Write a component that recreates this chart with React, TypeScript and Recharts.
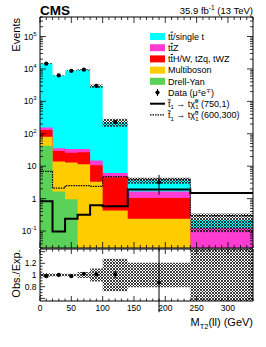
import React from 'react'
import {Area, ComposedChart, ErrorBar, Line, Scatter, XAxis, YAxis} from 'recharts'

// bin edges in GeV; last bin is 240-340
const binEdges = [0, 20, 40, 60, 80, 100, 140, 240, 340]
const binCenters = [10, 30, 50, 70, 90, 120, 190]

// background yields per bin (events)
const ttbarSingleT = [14650, 6260, 8850, 9270, 2945, 222, 2.0, 0.095]
const ttZ = [24, 6.5, 8, 7, 4.3, 1.6, 0.62, 0.125]
const ttOther = [50, 15.6, 13, 15.5, 7.4, 4.1, 0.81, 0]
const multiboson = [38, 12.2, 12, 11.5, 3.3, 0.43, 0.24, 0]
const drellYan = [43, 1.65, 0.95, 0, 0, 0, 0, 0]
const bkgRelUnc = [0.03, 0.02, 0.02, 0.05, 0.11, 0.28, 0.21, 0.58]

// signal points
const sig750 = [0.83, 0.097, 0.24, 0.32, 0.62, 0.58, 1.9, 1.5]
const sig600 = [6.9, 2.1, 2.5, 2.5, 2.4, 4.8, 4.0, 0.3]

// observed data
const dataObs = [14500, 6300, 8700, 9500, 2990, 230, 3.2]
const dataErrLow = [120, 80, 93, 97, 55, 15, 1.87]
const dataErrHigh = [120, 80, 93, 97, 55, 15, 2.2]

const colors = {
  ttbar: '#00ffff',
  ttZ: '#ff3cd2',
  ttOther: '#ff0000',
  multiboson: '#ffcc00',
  drellYan: '#5ad25a',
}

const FONT = '"Liberation Sans", Arial, Helvetica, sans-serif'
const yMin = 0.03
const yMax = 4e5
const rMin = 0.555
const rMax = 1.445

const nBins = binEdges.length - 1
const at = (arr: number[], i: number) => arr[Math.min(i, nBins - 1)]
const floorLog = (v: number) => Math.max(v, 1e-4)

const totals = ttbarSingleT.map((v, i) => v + ttZ[i] + ttOther[i] + multiboson[i] + drellYan[i])

const stackRows = binEdges.map((x, i) => {
  const dy = at(drellYan, i)
  const mb = dy + at(multiboson, i)
  const tto = mb + at(ttOther, i)
  const ttz = tto + at(ttZ, i)
  const total = at(totals, i)
  const unc = at(bkgRelUnc, i)
  return {
    x,
    dy: floorLog(dy),
    mb: floorLog(mb),
    tto: floorLog(tto),
    ttz: floorLog(ttz),
    total,
    band: [total * (1 - unc), total * (1 + unc)],
    ratioBand: [1 - unc, 1 + unc],
    s750: at(sig750, i),
    s600: at(sig600, i),
  }
})

const dataRows = binCenters.map((x, i) => ({x, y: dataObs[i], err: [dataErrLow[i], dataErrHigh[i]]}))
const ratioRows = binCenters.map((x, i) => ({
  x,
  y: dataObs[i] / totals[i],
  err: [dataErrLow[i] / totals[i], dataErrHigh[i] / totals[i]],
}))

const xTicks = Array.from({length: 35}, (_, i) => i * 10)
const isMajorX = (v: number) => v % 50 === 0

const logTicks: number[] = []
for (let e = -2; e <= 5; e++) {
  for (let m = 1; m <= 9; m++) {
    const v = Number((m * 10 ** e).toPrecision(3))
    if (v >= yMin && v <= yMax) logTicks.push(v)
  }
}
const isMajorLog = (v: number) => Math.abs(Math.log10(v) - Math.round(Math.log10(v))) < 1e-6

const ratioTicks = Array.from({length: 17}, (_, i) => Number((0.6 + i * 0.05).toFixed(2)))
const isMajorRatio = (v: number) => Math.abs(v * 5 - Math.round(v * 5)) < 1e-6

function logLabel(v: number) {
  const e = Math.round(Math.log10(v))
  if (e === 0) return '1'
  if (e === 1) return '10'
  return (
    <>
      <tspan>10</tspan>
      <tspan dy={-4} fontSize={6}>{e}</tspan>
    </>
  )
}

type Side = 'left' | 'right' | 'top' | 'bottom'

function frameTick(
  side: Side,
  isMajor: (v: number) => boolean,
  majorLen: number,
  minorLen: number,
  label?: (v: number) => React.ReactNode,
) {
  return (p: any) => {
    const v = p.payload.value as number
    const major = isMajor(v)
    const len = major ? majorLen : minorLen
    const {x, y} = p
    const end =
      side === 'left' ? [x + len, y] : side === 'right' ? [x - len, y] : side === 'top' ? [x, y + len] : [x, y - len]
    const text = label ? label(v) : null
    return (
      <g>
        <line x1={x} y1={y} x2={end[0]} y2={end[1]} stroke="#000" strokeWidth={0.8} />
        {text != null && side === 'left' && (
          <text x={x - 3.5} y={y + 3} textAnchor="end" fontSize={8.5} fontFamily={FONT} fill="#000">
            {text}
          </text>
        )}
        {text != null && side === 'bottom' && (
          <text x={x} y={y + 9.5} textAnchor="middle" fontSize={8.5} fontFamily={FONT} fill="#000">
            {text}
          </text>
        )}
      </g>
    )
  }
}

const axisCommon = {tickLine: false, tickSize: 0, tickMargin: 0, interval: 0 as const, axisLine: {stroke: '#000', strokeWidth: 1}}

function Hatch({id}: {id: string}) {
  return (
    <defs>
      <pattern id={id} width={3} height={3} patternUnits="userSpaceOnUse">
        <path d="M0,0 L3,3 M3,0 L0,3" stroke="#1a1a1a" strokeWidth={0.85} />
      </pattern>
    </defs>
  )
}

function MainPanel() {
  return (
    <ComposedChart width={266} height={249} data={stackRows} margin={{top: 0, right: 0, bottom: 0, left: 0}}>
      <Hatch id="hatch-main" />
      <XAxis
        dataKey="x"
        type="number"
        domain={[0, 340]}
        allowDataOverflow
        ticks={xTicks}
        height={1}
        tick={frameTick('bottom', isMajorX, 6, 3)}
        {...axisCommon}
      />
      <XAxis
        xAxisId="top"
        dataKey="x"
        type="number"
        orientation="top"
        domain={[0, 340]}
        allowDataOverflow
        ticks={xTicks}
        height={17}
        tick={frameTick('top', isMajorX, 6, 3)}
        {...axisCommon}
      />
      <YAxis
        scale="log"
        type="number"
        domain={[yMin, yMax]}
        allowDataOverflow
        ticks={logTicks}
        width={40}
        tick={frameTick('left', isMajorLog, 6, 3, (v) => (isMajorLog(v) ? logLabel(v) : null))}
        {...axisCommon}
      />
      <YAxis
        yAxisId="right"
        orientation="right"
        scale="log"
        type="number"
        domain={[yMin, yMax]}
        allowDataOverflow
        ticks={logTicks}
        width={13}
        tick={frameTick('right', isMajorLog, 6, 3)}
        {...axisCommon}
      />
      <Area type="stepAfter" dataKey="total" fill={colors.ttbar} fillOpacity={1} stroke="none" baseValue={yMin} isAnimationActive={false} />
      <Area type="stepAfter" dataKey="ttz" fill={colors.ttZ} fillOpacity={1} stroke="none" baseValue={yMin} isAnimationActive={false} />
      <Area type="stepAfter" dataKey="tto" fill={colors.ttOther} fillOpacity={1} stroke="none" baseValue={yMin} isAnimationActive={false} />
      <Area type="stepAfter" dataKey="mb" fill={colors.multiboson} fillOpacity={1} stroke="none" baseValue={yMin} isAnimationActive={false} />
      <Area type="stepAfter" dataKey="dy" fill={colors.drellYan} fillOpacity={1} stroke="none" baseValue={yMin} isAnimationActive={false} />
      <Area type="stepAfter" dataKey="band" fill="url(#hatch-main)" fillOpacity={1} stroke="none" isAnimationActive={false} />
      <Line type="stepAfter" dataKey="s600" stroke="#000" strokeWidth={1.2} strokeDasharray="1.5 1" dot={false} isAnimationActive={false} />
      <Line type="stepAfter" dataKey="s750" stroke="#000" strokeWidth={2} dot={false} isAnimationActive={false} />
      <Scatter
        data={dataRows}
        dataKey="y"
        fill="#000"
        isAnimationActive={false}
        shape={(p: any) => <circle cx={p.cx} cy={p.cy} r={2.1} fill="#000" />}
      >
        <ErrorBar dataKey="err" direction="y" width={0} stroke="#000" strokeWidth={1} />
      </Scatter>
    </ComposedChart>
  )
}

function RatioPanel() {
  return (
    <ComposedChart width={266} height={73} data={stackRows} margin={{top: 0, right: 0, bottom: 0, left: 0}}>
      <Hatch id="hatch-ratio" />
      <XAxis
        dataKey="x"
        type="number"
        domain={[0, 340]}
        allowDataOverflow
        ticks={xTicks}
        height={20}
        tick={frameTick('bottom', isMajorX, 5, 2.5, (v) => (isMajorX(v) && v <= 300 ? String(v) : null))}
        {...axisCommon}
      />
      <XAxis
        xAxisId="top"
        dataKey="x"
        type="number"
        orientation="top"
        domain={[0, 340]}
        allowDataOverflow
        ticks={xTicks}
        height={1}
        tick={frameTick('top', isMajorX, 5, 2.5)}
        {...axisCommon}
      />
      <YAxis
        type="number"
        domain={[rMin, rMax]}
        allowDataOverflow
        ticks={ratioTicks}
        width={40}
        tick={frameTick('left', isMajorRatio, 5, 2.5, (v) =>
          v === 0.8 ? '0.8' : v === 1 ? '1' : v === 1.2 ? '1.2' : null,
        )}
        {...axisCommon}
      />
      <YAxis
        yAxisId="right"
        orientation="right"
        type="number"
        domain={[rMin, rMax]}
        allowDataOverflow
        ticks={ratioTicks}
        width={13}
        tick={frameTick('right', isMajorRatio, 5, 2.5)}
        {...axisCommon}
      />
      <Area type="stepAfter" dataKey="ratioBand" fill="url(#hatch-ratio)" fillOpacity={1} stroke="none" isAnimationActive={false} />
      <Scatter
        data={ratioRows}
        dataKey="y"
        fill="#000"
        isAnimationActive={false}
        shape={(p: any) => <circle cx={p.cx} cy={p.cy} r={2.1} fill="#000" />}
      >
        <ErrorBar dataKey="err" direction="y" width={0} stroke="#000" strokeWidth={1} />
      </Scatter>
    </ComposedChart>
  )
}

const legendRows = [
  {kind: 'box', color: colors.ttbar, label: 'ttbar'},
  {kind: 'box', color: colors.ttZ, label: 'ttZ'},
  {kind: 'box', color: colors.ttOther, label: 'ttOther'},
  {kind: 'box', color: colors.multiboson, label: 'Multiboson'},
  {kind: 'box', color: colors.drellYan, label: 'Drell-Yan'},
  {kind: 'data', color: '#000', label: 'data'},
  {kind: 'solid', color: '#000', label: '(750,1)'},
  {kind: 'dotted', color: '#000', label: '(600,300)'},
]

function TT() {
  return (
    <>
      <tspan>t</tspan>
      <tspan textDecoration="overline" style={{textDecoration: 'overline'}}>t</tspan>
    </>
  )
}

function Stop({mass}: {mass: string}) {
  return (
    <>
      <tspan>t&#x0303;</tspan>
      <tspan dy={2.5} fontSize={6}>1</tspan>
      <tspan dy={-2.5}> → tχ&#x0303;</tspan>
      <tspan dy={-3.5} fontSize={6}>0</tspan>
      <tspan dx={-3.3} dy={6} fontSize={6}>1</tspan>
      <tspan dy={-2.5}>{' ' + mass}</tspan>
    </>
  )
}

function legendText(label: string) {
  switch (label) {
    case 'ttbar':
      return (<><TT /><tspan>/single t</tspan></>)
    case 'ttZ':
      return (<><TT /><tspan>Z</tspan></>)
    case 'ttOther':
      return (<><TT /><tspan>H/W, tZq, tWZ</tspan></>)
    case 'data':
      return (
        <>
          <tspan>Data (μ</tspan>
          <tspan dy={-3} fontSize={6}>±</tspan>
          <tspan dy={3}>e</tspan>
          <tspan dy={-3} fontSize={6}>∓</tspan>
          <tspan dy={3}>)</tspan>
        </>
      )
    case '(750,1)':
    case '(600,300)':
      return <Stop mass={label} />
    default:
      return label
  }
}

function Overlay() {
  return (
    <svg width={266} height={347} style={{position: 'absolute', left: 0, top: 0, pointerEvents: 'none'}} fontFamily={FONT}>
      <text x={40} y={14.5} fontSize={13.5} fontWeight="bold" fill="#000">CMS</text>
      <text x={253} y={13.5} fontSize={9.5} textAnchor="end" fill="#000">
        <tspan>35.9 fb</tspan>
        <tspan dy={-3.5} fontSize={6.5}>-1</tspan>
        <tspan dy={3.5}> (13 TeV)</tspan>
      </text>
      <text x={20} y={18} fontSize={11} textAnchor="end" transform="rotate(-90 20 18)" fill="#000">Events</text>
      <text x={20} y={273.5} fontSize={11} textAnchor="middle" transform="rotate(-90 20 273.5)" fill="#000">Obs./Exp.</text>
      <text x={253} y={326} fontSize={11} textAnchor="end" fill="#000">
        <tspan>M</tspan>
        <tspan dy={2.5} fontSize={7.5}>T2</tspan>
        <tspan dy={-2.5}>(ll) (GeV)</tspan>
      </text>
      {legendRows.map((row, i) => {
        const cy = 36.5 + i * 11.2
        return (
          <g key={row.label}>
            {row.kind === 'box' && <rect x={150} y={cy - 3.5} width={15} height={7} fill={row.color} />}
            {row.kind === 'data' && (
              <>
                <line x1={157.5} x2={157.5} y1={cy - 3.5} y2={cy + 3.5} stroke="#000" strokeWidth={1} />
                <circle cx={157.5} cy={cy} r={2.1} fill="#000" />
              </>
            )}
            {row.kind === 'solid' && <line x1={150} x2={165} y1={cy} y2={cy} stroke="#000" strokeWidth={2} />}
            {row.kind === 'dotted' && (
              <line x1={150} x2={165} y1={cy} y2={cy} stroke="#000" strokeWidth={1.2} strokeDasharray="1.5 1" />
            )}
            <text x={168} y={cy + 3.2} fontSize={9} fill="#000">
              {legendText(row.label)}
            </text>
          </g>
        )
      })}
    </svg>
  )
}

export default function App() {
  return (
    <div style={{position: 'absolute', left: 0, top: 0, width: 266, height: 347, background: '#fff', fontFamily: FONT}}>
      <div style={{position: 'absolute', left: 0, top: 0}}>
        <MainPanel />
      </div>
      <div style={{position: 'absolute', left: 0, top: 248}}>
        <RatioPanel />
      </div>
      <Overlay />
    </div>
  )
}
